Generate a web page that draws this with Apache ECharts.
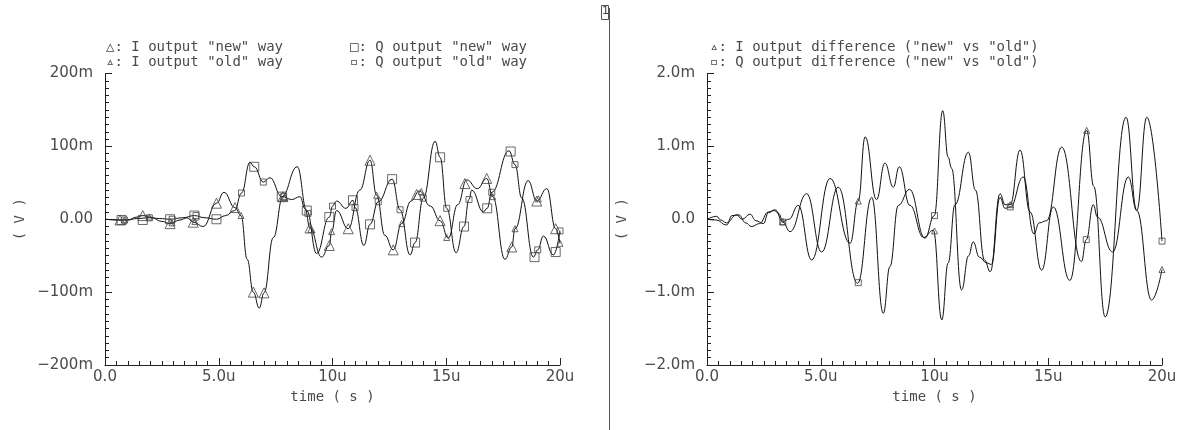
<!DOCTYPE html>
<html>
<head>
<meta charset="utf-8">
<script src="https://cdn.jsdelivr.net/npm/echarts@6/dist/echarts.min.js"></script>
<style>
html,body{margin:0;padding:0;background:#fff;}
#chart{width:1187px;height:430px;}
</style>
</head>
<body>
<div id="chart"></div>
<script>
// ---- tick labels ----
const xTickLabels = ['0.0', '5.0u', '10u', '15u', '20u'];          // at 0,5,10,15,20 (us)
const leftYTickLabels = ['\u2212200m', '\u2212100m', '0.00', '100m', '200m']; // -200..200 mV
const rightYTickLabels = ['\u22122.0m', '\u22121.0m', '0.0', '1.0m', '2.0m'];  // -2..2 mV

// ---- left panel: outputs [time us, mV] ----
const iOutput = [[0,0],[0.66,-1],[1.0,-1],[1.4,3],[1.66,5],[2.0,3],[2.5,-3],[2.86,-6],[3.3,-1],[3.6,2],[3.88,-4],[4.32,-10],[4.9,22],[5.23,37],[5.71,16],[5.98,5],[6.25,-55],[6.52,-100],[6.78,-122],[6.99,-101],[7.4,-25],[7.82,31],[8.2,27],[8.57,31],[8.8,14],[9.01,-12],[9.52,-52],[9.86,-36],[9.96,-17],[10.18,12],[10.69,-13],[11.2,40],[11.65,81],[11.94,33],[12.3,-22],[12.67,-42],[13.04,-6],[13.45,25],[13.82,39],[14.3,18],[14.73,-2],[15.09,-26],[15.5,20],[15.9,54],[16.37,42],[16.78,56],[17.04,31],[17.58,-55],[17.88,-38],[18.02,-13],[18.6,53],[18.98,25],[19.42,42],[19.81,-13],[20,-33]];
const qOutput = [[0,0],[0.73,-1],[1.0,-1],[1.4,1],[1.95,2],[2.4,1],[2.86,0],[3.4,2],[3.93,5],[4.4,2],[4.9,0],[5.3,5],[5.7,12],[6.0,36],[6.37,78],[6.56,72],[6.96,51],[7.25,57],[7.77,31],[8.45,72],[8.87,12],[9.3,-47],[9.86,3],[10.0,18],[10.18,25],[10.59,15],[10.9,26],[10.99,16],[11.38,-36],[11.65,-7],[12.01,24],[12.62,55],[12.97,13],[13.41,-49],[13.63,-32],[13.99,29],[14.51,107],[14.73,85],[15.02,15],[15.43,-46],[15.78,-10],[16.0,27],[16.12,40],[16.63,10],[16.8,15],[17.0,37],[17.76,94],[18.02,75],[18.32,29],[18.83,-52],[19.02,-42],[19.27,-23],[19.71,-49],[20,-16]];

// markers on the left panel
const iNewMarks = [[0.66,-1],[1.66,5],[2.86,-6],[3.88,-4],[4.9,22],[5.71,16],[6.52,-100],[6.99,-101],[7.82,31],[9.01,-12],[9.86,-36],[10.69,-13],[11.65,81],[12.67,-42],[13.7,34],[14.73,-2],[15.82,49],[16.78,56],[17.88,-38],[18.98,25],[19.81,-13]];
const iOldMarks = [[0.85,-1],[1.95,3],[2.95,-5],[3.95,-3],[5.98,5],[7.9,30],[9.05,-14],[9.96,-17],[11.94,33],[13.04,-6],[13.9,38],[15.02,-25],[17.04,31],[18.02,-13],[19.05,28],[20,-33]];
const qNewMarks = [[0.73,-1],[1.66,-1],[2.86,0],[3.93,5],[4.9,0],[6.56,72],[7.77,31],[8.87,12],[9.86,3],[10.9,26],[11.65,-7],[12.62,55],[13.63,-32],[14.73,85],[15.78,-10],[16.8,15],[17.83,93],[18.88,-52],[19.81,-45]];
const qOldMarks = [[0.85,-1],[1.95,2],[2.95,0],[4.0,5],[6.0,36],[6.96,51],[7.85,31],[8.92,8],[10.0,18],[10.99,16],[12.01,24],[12.97,13],[13.99,29],[15.02,15],[16.0,27],[17.0,37],[18.02,75],[19.02,-42],[20,-16]];

// ---- right panel: differences [time us, mV] ----
const iDiff = [[0,0],[0.43,0.04],[0.6,-0.01],[0.86,-0.05],[1.3,0.06],[1.55,0.0],[1.89,0.07],[2.15,-0.02],[2.48,-0.06],[2.7,0.09],[2.95,0.12],[3.15,0.08],[3.33,-0.03],[3.6,0.0],[4.01,0.19],[4.6,-0.56],[5.41,0.56],[6.29,-0.33],[6.65,0.25],[6.95,1.13],[7.45,0.27],[7.82,0.77],[8.19,0.44],[8.45,0.72],[8.92,0.19],[9.52,-0.25],[9.95,-0.15],[10.32,-1.38],[10.6,-0.6],[10.9,0.2],[11.49,0.92],[11.8,0.4],[12.2,-0.56],[12.45,-0.72],[12.88,0.35],[13.1,0.2],[13.33,0.2],[13.76,0.95],[14.2,0.1],[14.71,-0.7],[15.22,0.17],[15.95,-0.84],[16.69,1.22],[17.0,0.45],[17.5,-1.34],[18.42,1.4],[18.89,0.12],[19.54,-1.11],[20,-0.69]];
const qDiff = [[0,0],[0.4,-0.01],[0.86,-0.08],[1.1,0.05],[1.4,0.06],[1.7,-0.05],[1.96,-0.1],[2.3,-0.06],[2.7,0.1],[3.0,0.13],[3.33,-0.04],[3.65,-0.17],[4.38,0.35],[5.04,-0.45],[5.77,0.44],[6.62,-0.88],[7.24,0.30],[7.75,-1.29],[8.04,-0.65],[8.41,0.19],[8.9,0.41],[9.58,-0.26],[9.99,0.05],[10.36,1.49],[10.6,0.85],[10.75,0.70],[11.19,-0.97],[11.5,-0.5],[11.7,-0.31],[11.97,-0.52],[12.3,-0.6],[12.5,-0.62],[12.88,0.3],[13.1,0.15],[13.33,0.17],[13.9,0.58],[14.37,-0.2],[14.6,-0.05],[14.93,-0.02],[15.59,0.99],[16.46,-0.58],[16.67,-0.28],[16.98,0.2],[17.16,0.03],[17.83,-0.45],[18.52,0.58],[18.89,0.12],[19.33,1.4],[20,-0.3]];
const iDiffMarks = [[3.33,-0.03],[6.65,0.25],[10.0,-0.16],[13.33,0.2],[16.69,1.22],[20,-0.69]];
const qDiffMarks = [[3.33,-0.04],[6.65,-0.87],[10.0,0.05],[13.33,0.17],[16.67,-0.28],[20,-0.3]];

const FONT = 'DejaVu Sans';
const MONO = 'DejaVu Sans Mono';
const TXT = '#4a4a4a';
const AX = '#222';

function xAxis(gi) {
  return {
    type: 'value', gridIndex: gi, min: 0, max: 20, interval: 5, position: 'bottom',
    name: 'time ( s )', nameLocation: 'middle', nameGap: 21,
    nameTextStyle: {fontFamily: MONO, fontSize: 14, color: TXT},
    axisLine: {show: true, onZero: false, lineStyle: {color: AX, width: 1}},
    axisTick: {show: true, inside: true, length: 7, lineStyle: {color: AX, width: 1}},
    splitLine: {show: false},
    axisLabel: {fontFamily: FONT, fontSize: 15, color: TXT, margin: 5,
      formatter: v => xTickLabels[Math.round(v / 5)]}
  };
}
// secondary axis drawing only the small inside ticks
function xMinor(gi) {
  return {
    type: 'value', gridIndex: gi, min: 0, max: 20, interval: 0.5, position: 'bottom', offset: 0,
    axisLine: {show: true, onZero: false, lineStyle: {color: 'rgba(0,0,0,0)'}},
    axisTick: {show: true, inside: true, length: 4, lineStyle: {color: AX, width: 1}},
    axisLabel: {show: false}, splitLine: {show: false}
  };
}
function yAxis(gi, min, max, interval, labels) {
  return {
    type: 'value', gridIndex: gi, min: min, max: max, interval: interval, position: 'left',
    name: '( V )', nameLocation: 'middle', nameGap: 78, nameRotate: 90,
    nameTextStyle: {fontFamily: MONO, fontSize: 14, color: TXT},
    axisLine: {show: true, onZero: false, lineStyle: {color: AX, width: 1}},
    axisTick: {show: true, inside: true, length: 7, lineStyle: {color: AX, width: 1}},
    splitLine: {show: false},
    axisLabel: {fontFamily: FONT, fontSize: 15, color: TXT, margin: 12,
      padding: [0, 0, 6, 0],
      formatter: v => labels[Math.round((v - min) / interval)]}
  };
}
function yMinor(gi, min, max, interval) {
  return {
    type: 'value', gridIndex: gi, min: min, max: max, interval: interval, position: 'left', offset: 0,
    axisLine: {show: true, onZero: false, lineStyle: {color: 'rgba(0,0,0,0)'}},
    axisTick: {show: true, inside: true, length: 4, lineStyle: {color: AX, width: 1}},
    axisLabel: {show: false}, splitLine: {show: false}
  };
}
function curve(name, data, xi, yi) {
  return {name: name, type: 'line', data: data, xAxisIndex: xi, yAxisIndex: yi,
    showSymbol: false, smooth: 0.45, smoothMonotone: 'x', animation: false,
    lineStyle: {color: '#111', width: 1}, z: 2};
}
function marks(name, data, xi, yi, symbol, size) {
  return {name: name, type: 'scatter', data: data, xAxisIndex: xi, yAxisIndex: yi,
    symbol: symbol, symbolSize: size, animation: false, z: 3,
    itemStyle: {color: 'rgba(0,0,0,0)', borderColor: '#444', borderWidth: 1}};
}
function tickHolder(xi, yi) {
  // invisible single-point series so the tick-only axes get laid out
  return {type: 'line', data: [[0, 0]], xAxisIndex: xi, yAxisIndex: yi, symbol: 'none',
    showSymbol: false, silent: true, lineStyle: {opacity: 0}, tooltip: {show: false}};
}
function legendText(x, y, text) {
  return {type: 'text', left: x, top: y,
    style: {text: text, font: '14px "' + MONO + '"', fill: TXT}};
}

const chart = echarts.init(document.getElementById('chart'), null, {renderer: 'canvas'});
chart.setOption({
  backgroundColor: '#fff',
  animation: false,
  grid: [
    {left: 105, top: 73.5, width: 455, height: 291.5},
    {left: 707, top: 73.5, width: 455, height: 291.5}
  ],
  xAxis: [xAxis(0), xAxis(1), xMinor(0), xMinor(1)],
  yAxis: [yAxis(0, -200, 200, 100, leftYTickLabels), yAxis(1, -2, 2, 1, rightYTickLabels),
          yMinor(0, -200, 200, 10), yMinor(1, -2, 2, 0.1)],
  series: [
    curve('I output', iOutput, 0, 0),
    curve('Q output', qOutput, 0, 0),
    marks('I output "new" way', iNewMarks, 0, 0, 'triangle', 10),
    marks('I output "old" way', iOldMarks, 0, 0, 'triangle', 6),
    marks('Q output "new" way', qNewMarks, 0, 0, 'rect', 9),
    marks('Q output "old" way', qOldMarks, 0, 0, 'rect', 6),
    curve('I output difference', iDiff, 1, 1),
    curve('Q output difference', qDiff, 1, 1),
    marks('I output difference ("new" vs "old")', iDiffMarks, 1, 1, 'triangle', 6),
    marks('Q output difference ("new" vs "old")', qDiffMarks, 1, 1, 'rect', 6),
    tickHolder(2, 2),
    tickHolder(3, 3)
  ],
  graphic: [
    legendText(106, 40, '\u25B3: I output "new" way'),
    legendText(106, 55, '\u25B5: I output "old" way'),
    legendText(350, 40, '\u25A1: Q output "new" way'),
    legendText(350, 55, '\u25AB: Q output "old" way'),
    legendText(710, 40, '\u25B5: I output difference ("new" vs "old")'),
    legendText(710, 55, '\u25AB: Q output difference ("new" vs "old")'),
    {type: 'line', shape: {x1: 609.5, y1: 8, x2: 609.5, y2: 430}, style: {stroke: '#555', lineWidth: 1}},
    {type: 'rect', shape: {x: 601.5, y: 5.5, width: 7, height: 14}, style: {stroke: '#555', fill: '#fff', lineWidth: 1}},
    {type: 'text', left: 602, top: 6, style: {text: '1', font: '11px "' + FONT + '"', fill: '#444'}}
  ]
});
</script>
</body>
</html>
